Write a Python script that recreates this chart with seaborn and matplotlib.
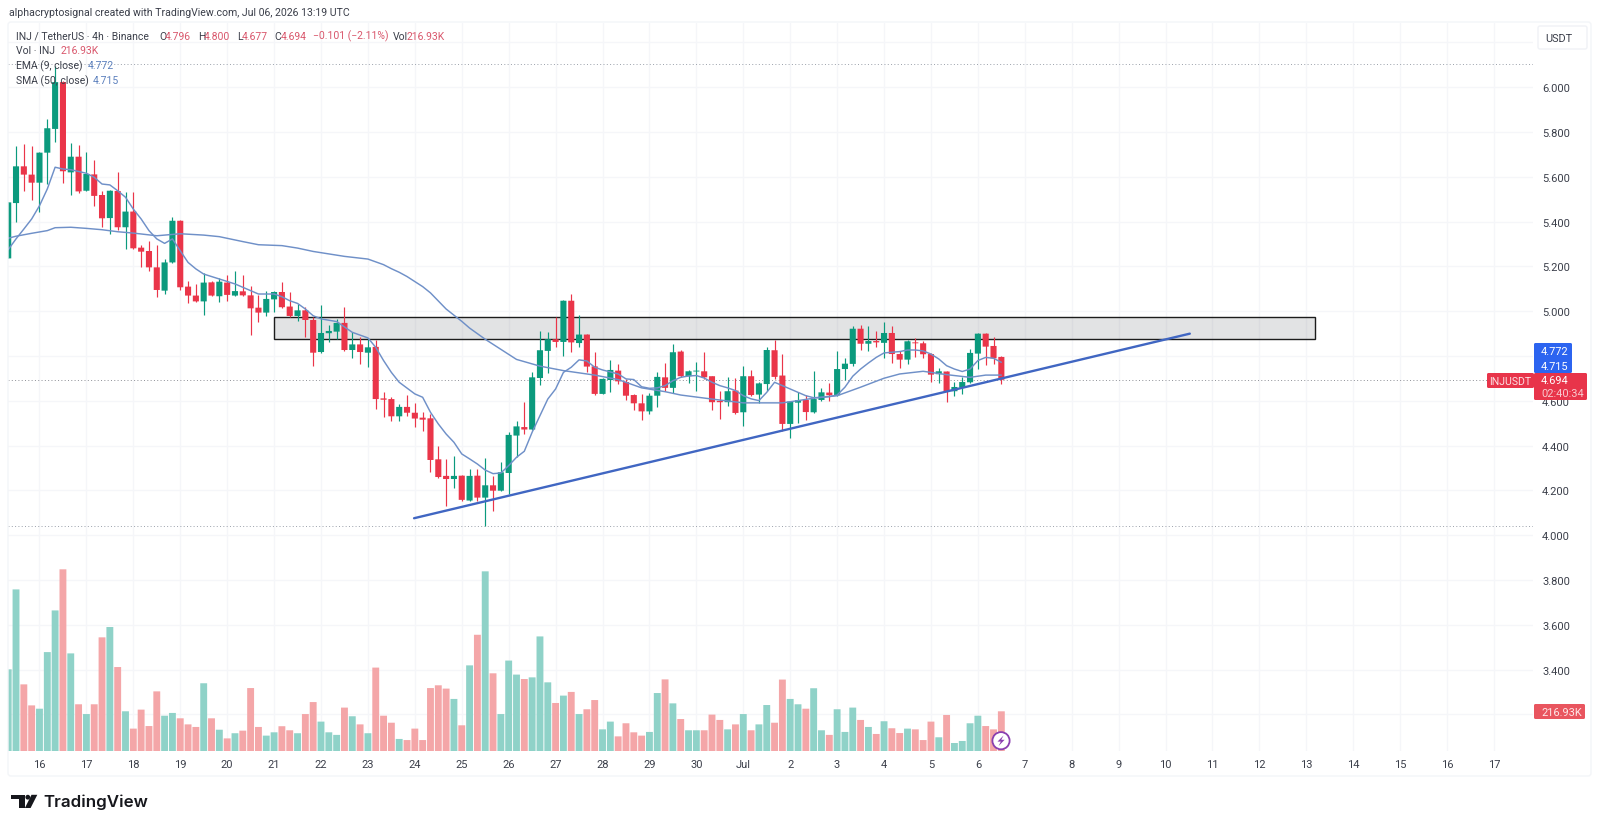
import numpy as np
import pandas as pd
import matplotlib
matplotlib.use("Agg")
import matplotlib.pyplot as plt
from matplotlib.patches import Rectangle, Polygon, Circle, FancyBboxPatch
import seaborn as sns

# 4h candles of INJ/USDT
opens = [5.236,5.483,5.647,5.610,5.574,5.708,5.814,6.023,5.620,5.690,5.538,5.611,5.519,5.416,5.537,5.375,
 5.445,5.284,5.269,5.196,5.092,5.218,5.404,5.110,5.070,5.044,5.129,5.067,5.128,5.070,5.089,5.071,
 5.016,4.994,5.053,5.086,5.021,4.979,5.004,4.961,4.818,4.902,4.909,4.948,4.827,4.852,4.815,4.841,
 4.611,4.608,4.531,4.573,4.547,4.525,4.522,4.339,4.265,4.251,4.266,4.155,4.266,4.168,4.223,4.199,
 4.278,4.445,4.483,4.472,4.702,4.823,4.875,4.863,5.047,4.858,4.896,4.754,4.631,4.693,4.735,4.684,
 4.626,4.589,4.553,4.623,4.705,4.658,4.820,4.710,4.731,4.732,4.710,4.600,4.594,4.646,4.549,4.710,
 4.628,4.675,4.826,4.713,4.497,4.592,4.604,4.549,4.604,4.637,4.625,4.742,4.765,4.922,4.855,4.867,
 4.859,4.903,4.809,4.784,4.861,4.857,4.809,4.719,4.731,4.643,4.659,4.683,4.811,4.900,4.845,4.796]
highs = [5.486,5.739,5.747,5.736,5.712,5.858,6.096,6.029,5.750,5.744,5.709,5.677,5.538,5.540,5.623,5.531,
 5.531,5.297,5.315,5.296,5.233,5.419,5.408,5.137,5.122,5.171,5.137,5.147,5.162,5.181,5.163,5.114,
 5.073,5.092,5.092,5.132,5.088,5.033,5.018,4.973,5.028,4.939,4.966,5.021,4.909,4.884,4.876,4.872,
 4.638,4.619,4.586,4.626,4.591,4.552,4.540,4.397,4.339,4.352,4.269,4.296,4.296,4.344,4.263,4.326,
 4.460,4.512,4.597,4.730,4.910,4.906,4.973,5.050,5.077,4.985,4.900,4.817,4.701,4.783,4.763,4.698,
 4.630,4.629,4.634,4.728,4.769,4.854,4.826,4.738,4.775,4.817,4.713,4.646,4.705,4.701,4.754,4.738,
 4.683,4.842,4.873,4.809,4.600,4.638,4.626,4.732,4.658,4.678,4.824,4.790,4.933,4.939,4.934,4.911,
 4.951,4.933,4.824,4.872,4.882,4.869,4.812,4.745,4.735,4.683,4.705,4.832,4.903,4.905,4.884,4.800]
lows = [5.236,5.400,5.538,5.497,5.445,5.568,5.757,5.573,5.521,5.526,5.538,5.471,5.375,5.345,5.364,5.278,
 5.278,5.199,5.181,5.062,5.077,5.215,5.096,5.037,5.042,4.983,5.067,5.040,5.047,5.068,5.070,4.896,
 4.951,4.980,4.995,5.013,4.973,4.958,4.884,4.757,4.815,4.864,4.876,4.821,4.793,4.765,4.753,4.564,
 4.527,4.512,4.512,4.531,4.485,4.467,4.284,4.254,4.132,4.210,4.155,4.152,4.155,4.043,4.107,4.197,
 4.184,4.348,4.452,4.470,4.671,4.725,4.842,4.799,4.820,4.842,4.728,4.626,4.629,4.641,4.675,4.604,
 4.561,4.516,4.542,4.571,4.646,4.635,4.705,4.680,4.646,4.698,4.561,4.519,4.576,4.542,4.489,4.620,
 4.591,4.646,4.698,4.467,4.434,4.500,4.515,4.546,4.598,4.601,4.623,4.693,4.754,4.827,4.824,4.839,
 4.790,4.769,4.748,4.765,4.798,4.790,4.683,4.680,4.597,4.623,4.631,4.680,4.742,4.760,4.766,4.677]
closes = [5.486,5.647,5.610,5.574,5.708,5.817,6.023,5.625,5.690,5.535,5.613,5.515,5.415,5.538,5.375,5.445,
 5.281,5.266,5.196,5.095,5.218,5.404,5.107,5.070,5.044,5.128,5.070,5.132,5.073,5.090,5.071,5.013,
 4.994,5.055,5.086,5.018,4.979,5.004,4.961,4.815,4.903,4.912,4.948,4.827,4.852,4.818,4.839,4.608,
 4.605,4.531,4.573,4.547,4.521,4.516,4.336,4.260,4.251,4.265,4.158,4.265,4.168,4.223,4.199,4.281,
 4.448,4.486,4.472,4.705,4.826,4.875,4.863,5.047,4.861,4.896,4.753,4.631,4.698,4.738,4.687,4.623,
 4.589,4.553,4.623,4.707,4.658,4.817,4.710,4.732,4.734,4.705,4.594,4.594,4.643,4.546,4.710,4.626,
 4.678,4.827,4.707,4.497,4.597,4.603,4.550,4.608,4.638,4.625,4.742,4.766,4.922,4.855,4.867,4.861,
 4.903,4.809,4.784,4.866,4.857,4.808,4.717,4.732,4.643,4.662,4.684,4.814,4.900,4.842,4.790,4.694]
volumes_k = [444.5,878,363,249,231,538,764,987,531,255,202,255,618,674,457,217,
 123,226,137,325,193,208,179,146,132,369,179,117,70,98,112,343,
 132,85,103,136,114,98,202,267,161,103,89,237,190,146,98,454,
 193,155,67,61,123,61,343,358,340,284,141,466,632,976,423,202,
 492,416,392,401,623,374,262,302,322,202,228,278,119,161,81,152,
 103,85,105,316,390,260,175,114,114,114,199,170,119,146,202,114,
 146,251,155,389,284,255,231,342,114,89,228,105,237,170,132,94,
 163,125,99,123,119,61,161,76,197,45,56,152,193,137,119,216.93]

# Moving averages, as (candle number, price) pairs
ema_at = [0,1,2,3,4,5,6,7,8,10,11,12,13,14,15,16,17,18,19,20,21,22,23,24,25,27,29,30,32,34,35,36,37,38,
 39,40,42,44,46,47,48,49,50,52,53,54,55,56,57,58,59,60,61,62,63,64,65,66,67,68,69,70,71,72,73,74,75,76,78,79,
 80,81,82,83,84,85,86,87,88,89,90,91,92,93,94,95,96,97,98,99,100,101,102,103,104,105,106,107,108,109,110,111,
 112,113,114,115,116,117,118,119,120,121,122,123,124,125,126,127]
ema_val = [5.275,5.323,5.367,5.412,5.471,5.546,5.643,5.635,5.632,5.616,5.598,5.568,5.564,5.538,5.509,5.456,5.412,
 5.360,5.323,5.303,5.323,5.270,5.218,5.189,5.166,5.144,5.122,5.107,5.077,5.077,5.065,5.047,5.035,5.010,
 4.980,4.966,4.954,4.906,4.881,4.839,4.780,4.727,4.683,4.631,4.616,4.549,4.497,4.452,4.415,4.363,4.341,4.318,
 4.291,4.275,4.278,4.311,4.348,4.375,4.460,4.534,4.608,4.653,4.727,4.750,4.783,4.778,4.750,4.738,4.720,4.698,
 4.695,4.663,4.656,4.658,4.668,4.690,4.705,4.711,4.713,4.702,4.683,4.668,4.658,4.646,4.623,4.609,4.601,4.638,
 4.683,4.668,4.653,4.638,4.623,4.614,4.616,4.619,4.626,4.661,4.710,4.742,4.769,4.794,
 4.814,4.817,4.820,4.827,4.827,4.823,4.809,4.787,4.757,4.742,4.731,4.742,4.780,4.794,4.790,4.772]
sma_at = [0,1,3,5,6,8,10,12,14,16,19,22,25,27,30,32,35,37,39,43,46,48,49,50,51,53,54,56,58,59,61,63,65,66,68,71,75,
 78,81,84,86,90,94,99,101,103,106,109,112,114,117,118,120,123,125,127]
sma_val = [5.326,5.335,5.348,5.360,5.373,5.375,5.370,5.364,5.355,5.349,5.337,5.346,5.340,5.333,5.311,5.297,5.293,
 5.282,5.267,5.245,5.233,5.208,5.190,5.174,5.155,5.110,5.082,5.010,4.955,4.925,4.875,4.830,4.785,4.775,4.755,4.735,
 4.715,4.695,4.658,4.641,4.626,4.608,4.591,4.591,4.601,4.612,4.623,4.661,4.701,4.720,4.732,4.727,4.717,4.705,4.715,4.715]

# Hand-drawn annotations, in candle numbers and prices
trend_at = [51.9, 151.1]
trend_val = [4.076, 4.900]
zone_left, zone_right = 34.03, 167.07
zone_low, zone_high = 4.875, 4.973
range_high, range_low = 6.104, 4.041

price_ticks = [3.2,3.4,3.6,3.8,4.0,4.2,4.4,4.6,4.8,5.0,5.2,5.4,5.6,5.8,6.0,6.2]
covered_ticks = {3.2, 4.8, 6.2}   # these levels sit under the axis badges and carry no text
day_labels = ["16","17","18","19","20","21","22","23","24","25","26","27","28","29","30","Jul",
              "2","3","4","5","6","7","8","9","10","11","12","13","14","15","16","17"]
day_ticks = [4 + 6*k for k in range(len(day_labels))]

GREEN, RED = "#0b9a7d", "#ea3549"
GREEN_SOFT, RED_SOFT = "#8fd2c8", "#f4a6a8"
TEXT = "#3b3f4a"
GRID = "#f5f6f9"
LINE = "#6f90c8"

sns.set_theme(style="white")
plt.rcParams["font.family"] = ["Roboto", "DejaVu Sans"]

W, H = 1600, 829
fig = plt.figure(figsize=(W/100, H/100), dpi=100, facecolor="white")

# plot area in pixels
left, right, top, bottom = 8, 1533, 24, 752.3
rect = [left/W, 1 - bottom/H, (right-left)/W, (bottom-top)/H]
xlim = ((left-8.2)/7.82, (right-8.2)/7.82)
ylim = (6.394 - bottom/224, 6.394 - top/224)

ax_grid = fig.add_axes(rect, zorder=0)
ax_vol = fig.add_axes(rect, zorder=1)
ax = fig.add_axes(rect, zorder=2)

ax_grid.set(xlim=xlim, ylim=ylim, xticks=day_ticks, yticks=price_ticks, xticklabels=[], yticklabels=[])
ax_grid.grid(True, color=GRID, lw=1)
ax_grid.tick_params(length=0)
for s in ax_grid.spines.values():
    s.set_visible(False)

candles = pd.DataFrame({"n": np.arange(len(closes)), "open": opens, "high": highs, "low": lows,
                        "close": closes, "vol": volumes_k})
candles["side"] = np.where(candles["close"] >= candles["open"], "up", "down")

# volume histogram
sns.barplot(data=candles, x="n", y="vol", hue="side", palette={"up": GREEN_SOFT, "down": RED_SOFT},
            native_scale=True, dodge=False, width=0.88, saturation=1, legend=False, linewidth=0, ax=ax_vol)
for bar in ax_vol.patches:
    bar.set_snap(False)
ax_vol.set(xlim=xlim, ylim=(0, (bottom-top)*216.93/40), xlabel="", ylabel="", xticks=[], yticks=[])
ax_vol.patch.set_visible(False)
for s in ax_vol.spines.values():
    s.set_visible(False)

# candles
ax.patch.set_visible(False)
for s in ax.spines.values():
    s.set_visible(False)
colors = candles["side"].map({"up": GREEN, "down": RED})
ax.vlines(candles["n"], candles["low"], candles["high"], colors=colors, lw=0.85, zorder=3)
bodies = ax.bar(candles["n"], (candles["close"]-candles["open"]).abs().clip(lower=0.004),
                bottom=candles[["open", "close"]].min(axis=1), width=0.78, color=colors, lw=0, zorder=4)
for body in bodies:
    body.set_snap(False)

# moving averages and trend line
sns.lineplot(x=ema_at, y=ema_val, color=LINE, lw=1.05, estimator=None, ax=ax, zorder=5)
sns.lineplot(x=sma_at, y=sma_val, color=LINE, lw=1.05, estimator=None, ax=ax, zorder=5)
sns.lineplot(x=trend_at, y=trend_val, color="#4066c2", lw=1.7, estimator=None, ax=ax, zorder=6)

# supply zone
ax.add_patch(Rectangle((zone_left, zone_low), zone_right-zone_left, zone_high-zone_low,
                       facecolor="#61646a", alpha=0.18, lw=0, zorder=2))
ax.add_patch(Rectangle((zone_left, zone_low), zone_right-zone_left, zone_high-zone_low,
                       fill=False, edgecolor="#1c1c1c", lw=1.0, zorder=2.5))

# range and last-price dotted levels
dots = (0, (1, 2.4))
for level, col in ((range_high, "#9aa0aa"), (range_low, "#9aa0aa"), (closes[-1], "#8d8f96")):
    ax.axhline(level, color=col, lw=0.7, ls=dots, zorder=1)

ax.set(xlim=xlim, ylim=ylim, xlabel="", ylabel="")
ax.set_yticks(price_ticks)
ax.set_yticklabels(["" if t in covered_ticks else f"{t:.3f}" for t in price_ticks])
ax.yaxis.tick_right()
ax.set_xticks(day_ticks)
ax.set_xticklabels(day_labels)
ax.tick_params(axis="y", length=0, pad=6.5, labelsize=8.0, labelcolor=TEXT)
ax.tick_params(axis="x", length=0, pad=5.6, labelsize=8.0, labelcolor=TEXT)

# header, legend and badges live in a pixel-addressed overlay
ann = fig.add_axes([0, 0, 1, 1], zorder=5)
ann.set(xlim=(0, W), ylim=(H, 0))
ann.axis("off")

def label(x, y, s, color=TEXT, size=7.9, **kw):
    ann.text(x, y, s, color=color, fontsize=size, va="center", ha=kw.pop("ha", "left"), **kw)

def badge(x0, y0, x1, y1, color):
    ann.add_patch(FancyBboxPatch((x0+1, y0+1), x1-x0-2, y1-y0-2, boxstyle="round,pad=1,rounding_size=1.5",
                                 fc=color, ec="none"))

# outer frame
ann.add_patch(FancyBboxPatch((10, 25), 1579, 750, boxstyle="round,pad=2,rounding_size=3",
                             fc="none", ec="#f3f5f8", lw=1))

label(9, 13, "alphacryptosignal created with TradingView.com, Jul 06, 2026 13:19 UTC", size=7.6)
PINK = "#d9576c"
BLUE = "#5c80bd"
LEGEND = 7.45
label(16, 36.5, "INJ / TetherUS · 4h · Binance", size=LEGEND)
for x, s, c in ((159, "O", TEXT), (165, "4.796", PINK), (198, "H", TEXT), (204, "4.800", PINK),
                (237, "L", TEXT), (242, "4.677", PINK), (274, "C", TEXT), (281, "4.694", PINK),
                (313, "−0.101 (−2.11%)", PINK), (393, "Vol", TEXT), (407, "216.93K", PINK)):
    label(x, 36.5, s, color=c, size=LEGEND)
label(16, 51, "Vol · INJ", size=LEGEND); label(61, 51, "216.93K", color=PINK, size=LEGEND)
label(16, 66, "EMA (9, close)", size=LEGEND); label(88, 66, f"{ema_val[-1]:.3f}", color=BLUE, size=LEGEND)
label(16, 81, "SMA (50, close)", size=LEGEND); label(93, 81, f"{sma_val[-1]:.3f}", color=BLUE, size=LEGEND)

# currency box
ann.add_patch(FancyBboxPatch((1539, 28), 47, 21, boxstyle="round,pad=1,rounding_size=2",
                             fc="white", ec="#f0f2f6", lw=1))
label(1545, 39, "USDT")

# price badges
badge(1534, 344, 1572, 374, "#2c64f0")
label(1541, 352, f"{ema_val[-1]:.3f}", color="white")
label(1541, 367, f"{sma_val[-1]:.3f}", color="white")
badge(1534, 374, 1587, 401, "#e8344a")
label(1541, 381, f"{closes[-1]:.3f}", color="white")
label(1541, 394, "02:40:34", color="#f8c9ce")
badge(1487, 374, 1534, 389, "#e8344a")
label(1510.5, 381.5, "INJUSDT", color="#fbdfe2", ha="center", size=7.6)
badge(1534, 705, 1585, 720, "#e9555f")
label(1541, 712.5, "216.93K", color="#fde6e7")

# flash marker on the live bar
ann.add_patch(Circle((1001, 741.7), 8.6, fc="white", ec="#8a3fb0", lw=1.3))
ann.add_patch(Polygon([(1003.5, 736.5), (997.5, 742.6), (1000.8, 742.6), (998.6, 747), (1004.6, 740.8), (1001.3, 740.8)],
                      closed=True, fc="#8a3fb0", ec="none"))

# wordmark
INK = "#16171c"
ann.add_patch(Polygon([(10.7, 795.8), (25.4, 795.8), (25.4, 809), (18.6, 809), (18.6, 800.3), (10.7, 800.3)], closed=True, fc=INK, ec="none"))
ann.add_patch(Circle((27.8, 798.2), 2.4, fc=INK, ec="none"))
ann.add_patch(Polygon([(31.5, 795.8), (37.3, 795.8), (30.6, 809), (24.9, 809)], closed=True, fc=INK, ec="none"))
ann.text(43, 802.5, "TradingView", color=INK, fontsize=12.2, fontweight="semibold", family=["Inter", "DejaVu Sans"], va="center")

fig.savefig("out.png", dpi=100, facecolor="white")
